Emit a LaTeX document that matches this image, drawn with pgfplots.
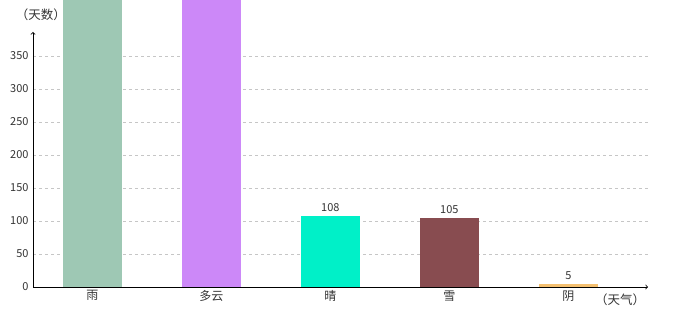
\documentclass[border=0pt]{standalone}
\usepackage{pgfplots}
\pgfplotsset{compat=1.18}
\usepackage{fontspec}
\setmainfont{Noto Sans CJK SC}
\definecolor{cRain}{RGB}{158,200,180}
\definecolor{cCloud}{RGB}{204,136,248}
\definecolor{cSun}{RGB}{0,240,200}
\definecolor{cSnow}{RGB}{136,76,80}
\definecolor{cOvc}{RGB}{244,192,112}
\begin{document}
\begin{tikzpicture}[x=1pt,y=1pt]
\useasboundingbox (0,0) rectangle (680,320);
\clip (0,0) rectangle (680,320);
\begin{axis}[
  at={(33pt,33pt)}, anchor=south west,
  scale only axis, width=615pt, height=255pt,
  xmin=-0.5, xmax=4.67, ymin=0, ymax=386.4,
  axis lines=left,
  axis line style={black, line width=0.8pt, -{>[scale=1.2]}},
  clip=false,
  ybar, bar width=59pt, bar shift=0pt,
  xtick={0,1,2,3,4},
  xticklabels={雨,多云,晴,雪,阴},
  ytick={0,50,100,150,200,250,300,350},
  major tick length=0pt,
  tick label style={font=\fontsize{11}{13}\selectfont, text=black!80},
  /pgf/number format/assume math mode=true,
  ymajorgrids, grid style={dashed, gray!45, line width=0.5pt},
  every node near coord/.style={font=\fontsize{11}{13}\selectfont, text=black!80, yshift=1pt},
  yticklabel style={xshift=-1pt},
  xticklabel style={yshift=0pt, font=\fontsize{12}{14}\selectfont},
]
\addplot[fill=cRain, draw=none] coordinates {(0,500)};
\addplot[fill=cCloud, draw=none] coordinates {(1,500)};
\addplot[fill=cSun, draw=none, nodes near coords] coordinates {(2,108)};
\addplot[fill=cSnow, draw=none, nodes near coords] coordinates {(3,105)};
\addplot[fill=cOvc, draw=none, nodes near coords] coordinates {(4,5)};
\end{axis}
\node[font=\fontsize{12.5}{14}\selectfont, text=black!80] at (41,305) {（天数）};
\node[font=\fontsize{12.5}{14}\selectfont, text=black!80] at (620,20) {（天气）};
\end{tikzpicture}
\end{document}
